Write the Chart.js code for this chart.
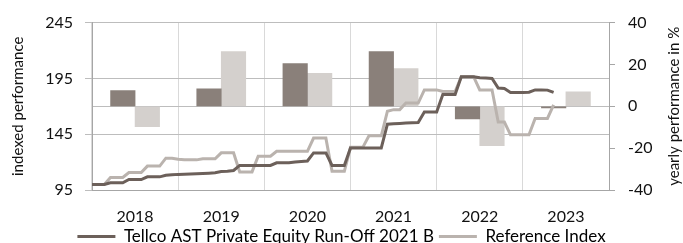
<!DOCTYPE html>
<html>
<head>
<meta charset="utf-8">
<script src="https://cdn.jsdelivr.net/npm/chart.js@4.4.1/dist/chart.umd.min.js"></script>
<style>
  html, body { margin: 0; padding: 0; background: #fff; overflow: hidden; }
  #wrap { position: relative; width: 683px; height: 255px; }
</style>
</head>
<body>
<div id="wrap"><canvas id="myChart"></canvas></div>
<script>
var years = ["2018", "2019", "2020", "2021", "2022", "2023"];

// yearly performance in % (bars, right axis)
var yearlyFund = [7.5, 8.3, 20.4, 26.2, -6.0, -0.8];
var yearlyIndex = [-9.7, 26.2, 15.7, 18.0, -18.8, 6.9];

// indexed performance, monthly (lines, left axis)
var fundIndexed = [
    100, 100, 100, 101.4, 101.4, 101.4, 104.4, 104.4, 104.4, 106.8,
    106.8, 106.8, 108.2, 108.6, 109, 109.1, 109.3, 109.5, 109.7, 110,
    110.4, 111.5, 111.8, 112.5, 117, 117, 117, 117, 117, 117,
    119.4, 119.4, 119.4, 120, 120.5, 121, 128.2, 128.2, 128.2, 117,
    117, 117, 132.7, 132.7, 132.7, 132.7, 132.7, 132.7, 154, 154.3,
    154.6, 155, 155.3, 155.5, 165, 165, 165, 180.5, 180.5, 180.5,
    196.5, 196.5, 196.5, 195.5, 195.3, 195, 186.3, 186, 182.4, 182.4,
    182.4, 182.6, 184.7, 184.7, 184.5, 182.4
];
var refIndexed = [
    100, 100, 100, 106.2, 106.2, 106.2, 110.6, 110.6, 110.6, 116.4,
    116.4, 116.4, 123.5, 123.5, 122.5, 122, 122, 122, 123, 123,
    123, 128.3, 128.3, 128.3, 111.2, 111.2, 111.2, 125.3, 125.3, 125.3,
    129.7, 129.7, 129.7, 129.7, 129.7, 129.7, 141.5, 141.5, 141.5, 111.8,
    111.8, 111.8, 133.2, 133.2, 133.2, 143.5, 143.5, 143.5, 165.6, 167,
    167, 172.9, 172.9, 172.9, 184.7, 184.7, 184.7, 183.2, 183.2, 183.2,
    196.5, 196.5, 196.5, 184.7, 184.7, 184.7, 155.9, 155.9, 144.4, 144.4,
    144.4, 144.4, 159.1, 159.1, 159.1, 171.3
];

var fundName = "Tellco AST Private Equity Run-Off 2021 B";
var refName = "Reference Index";
var leftTicks = [95, 145, 195, 245];
var rightTicks = [-40, -20, 0, 20, 40];

var fontFamily = "Lato, 'Noto Sans', sans-serif";
var darkLine = "#6c605a";
var lightLine = "#bab3ae";
var darkBar = "#8a807a";
var lightBar = "#d4d0cd";

function toPoints(values) {
    return values.map((v, i) => ({ x: i, y: v }));
}

Chart.defaults.font.family = fontFamily;
Chart.defaults.color = "#111";

// right axis title reads bottom-to-top like the left one
var rightTitle = {
    id: "rightTitle",
    afterDraw(chart) {
        var ctx = chart.ctx;
        var area = chart.chartArea;
        ctx.save();
        ctx.translate(674, (area.top + area.bottom) / 2);
        ctx.rotate(-Math.PI / 2);
        ctx.font = "15px " + fontFamily;
        ctx.fillStyle = "#111";
        ctx.textAlign = "center";
        ctx.textBaseline = "middle";
        ctx.fillText("yearly performance in %", 0, 0);
        ctx.restore();
    }
};

var chart = new Chart(document.getElementById("myChart"), {
    type: "bar",
    data: {
        labels: years,
        datasets: [
            {
                type: "line",
                label: fundName,
                data: toPoints(fundIndexed),
                xAxisID: "x2",
                yAxisID: "y",
                borderColor: darkLine,
                backgroundColor: darkLine,
                borderWidth: 3,
                pointRadius: 0,
                tension: 0,
            },
            {
                type: "line",
                label: refName,
                data: toPoints(refIndexed),
                xAxisID: "x2",
                yAxisID: "y",
                borderColor: lightLine,
                backgroundColor: lightLine,
                borderWidth: 3,
                pointRadius: 0,
                tension: 0,
            },
            {
                type: "bar",
                label: "fund yearly",
                data: yearlyFund,
                xAxisID: "x",
                yAxisID: "y1",
                backgroundColor: darkBar,
                barThickness: 24.5,
            },
            {
                type: "bar",
                label: "index yearly",
                data: yearlyIndex,
                xAxisID: "x",
                yAxisID: "y1",
                backgroundColor: lightBar,
                barThickness: 24.5,
            },
        ],
    },
    options: {
        responsive: true,
        maintainAspectRatio: false,
        animation: false,
        layout: { padding: { top: 20, left: 0, right: 0, bottom: 0 } },
        plugins: {
            tooltip: { enabled: false },
            legend: {
                position: "bottom",
                labels: {
                    boxWidth: 38,
                    boxHeight: 3,
                    padding: 5,
                    font: { size: 17 },
                    generateLabels: (c) => [
                        { text: fundName, fillStyle: darkLine, strokeStyle: darkLine, lineWidth: 0, datasetIndex: 0 },
                        { text: refName, fillStyle: lightLine, strokeStyle: lightLine, lineWidth: 0, datasetIndex: 1 },
                    ],
                },
            },
        },
        scales: {
            x: {
                type: "category",
                offset: true,
                grid: { offset: true, color: "#d9d9d9", drawTicks: false },
                border: { color: "#a6a6a6" },
                ticks: { padding: 17, font: { size: 16 } },
                afterFit: (s) => { s.height = 33; },
            },
            x2: {
                type: "linear",
                display: false,
                offset: false,
                grid: { offset: false },
                min: 0,
                max: 84,
            },
            y: {
                position: "left",
                min: 95,
                max: 245,
                afterBuildTicks: (s) => { s.ticks = leftTicks.map((v) => ({ value: v })); },
                grid: { color: "#bdbdbd", tickLength: 7 },
                border: { color: "#a6a6a6" },
                ticks: { padding: 12, font: { size: 16 } },
                title: { display: true, text: "indexed performance", font: { size: 15 }, padding: { top: 9, bottom: 0 } },
                afterFit: (s) => { s.width = 92; },
            },
            y1: {
                position: "right",
                min: -40,
                max: 40,
                afterBuildTicks: (s) => { s.ticks = rightTicks.map((v) => ({ value: v })); },
                grid: {
                    color: (ctx) => (ctx.tick && ctx.tick.value === 0 ? "#bdbdbd" : "rgba(0,0,0,0)"),
                    tickColor: "#a6a6a6",
                    tickLength: 6,
                },
                border: { color: "#a6a6a6" },
                ticks: { padding: 13, font: { size: 16 } },
                afterFit: (s) => { s.width = 74; },
            },
        },
    },
    plugins: [rightTitle],
});
</script>
</body>
</html>
